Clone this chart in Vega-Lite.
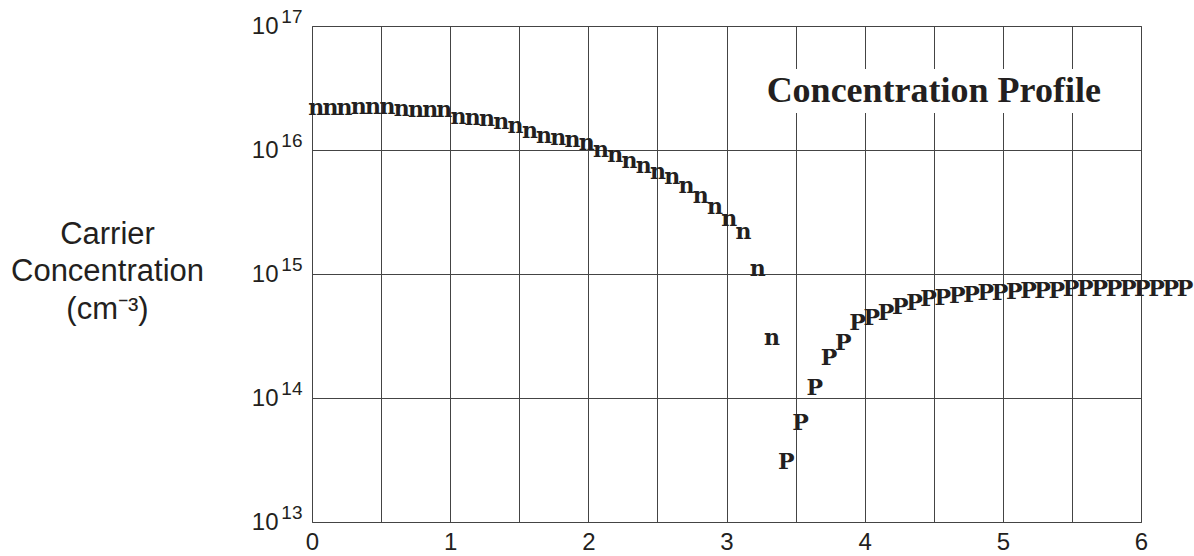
{
  "$schema": "https://vega.github.io/schema/vega-lite/v6.json",
  "width": 829,
  "height": 496,
  "autosize": {"type": "none"},
  "padding": {"left": 312, "top": 26, "right": 53, "bottom": 34},
  "background": "white",
  "config": {"view": {"stroke": "#555", "strokeWidth": 1}},
  "data": {
    "values": [
      {"depth": 0.030, "conc": 2.22e16, "carrier": "n"},
      {"depth": 0.133, "conc": 2.22e16, "carrier": "n"},
      {"depth": 0.236, "conc": 2.22e16, "carrier": "n"},
      {"depth": 0.339, "conc": 2.26e16, "carrier": "n"},
      {"depth": 0.442, "conc": 2.26e16, "carrier": "n"},
      {"depth": 0.546, "conc": 2.26e16, "carrier": "n"},
      {"depth": 0.649, "conc": 2.18e16, "carrier": "n"},
      {"depth": 0.752, "conc": 2.14e16, "carrier": "n"},
      {"depth": 0.855, "conc": 2.14e16, "carrier": "n"},
      {"depth": 0.958, "conc": 2.14e16, "carrier": "n"},
      {"depth": 1.061, "conc": 1.88e16, "carrier": "n"},
      {"depth": 1.164, "conc": 1.85e16, "carrier": "n"},
      {"depth": 1.267, "conc": 1.81e16, "carrier": "n"},
      {"depth": 1.370, "conc": 1.71e16, "carrier": "n"},
      {"depth": 1.473, "conc": 1.59e16, "carrier": "n"},
      {"depth": 1.577, "conc": 1.45e16, "carrier": "n"},
      {"depth": 1.680, "conc": 1.32e16, "carrier": "n"},
      {"depth": 1.783, "conc": 1.27e16, "carrier": "n"},
      {"depth": 1.886, "conc": 1.23e16, "carrier": "n"},
      {"depth": 1.989, "conc": 1.16e16, "carrier": "n"},
      {"depth": 2.092, "conc": 1.02e16, "carrier": "n"},
      {"depth": 2.195, "conc": 9.28e15, "carrier": "n"},
      {"depth": 2.298, "conc": 8.31e15, "carrier": "n"},
      {"depth": 2.401, "conc": 7.57e15, "carrier": "n"},
      {"depth": 2.504, "conc": 6.77e15, "carrier": "n"},
      {"depth": 2.608, "conc": 6.17e15, "carrier": "n"},
      {"depth": 2.711, "conc": 5.22e15, "carrier": "n"},
      {"depth": 2.814, "conc": 4.34e15, "carrier": "n"},
      {"depth": 2.917, "conc": 3.54e15, "carrier": "n"},
      {"depth": 3.020, "conc": 2.83e15, "carrier": "n"},
      {"depth": 3.123, "conc": 2.22e15, "carrier": "n"},
      {"depth": 3.226, "conc": 1.12e15, "carrier": "n"},
      {"depth": 3.329, "conc": 3.10e14, "carrier": "n"},
      {"depth": 3.432, "conc": 3.12e13, "carrier": "P"},
      {"depth": 3.535, "conc": 6.44e13, "carrier": "P"},
      {"depth": 3.639, "conc": 1.22e14, "carrier": "P"},
      {"depth": 3.742, "conc": 2.15e14, "carrier": "P"},
      {"depth": 3.845, "conc": 2.84e14, "carrier": "P"},
      {"depth": 3.948, "conc": 4.08e14, "carrier": "P"},
      {"depth": 4.051, "conc": 4.53e14, "carrier": "P"},
      {"depth": 4.154, "conc": 4.97e14, "carrier": "P"},
      {"depth": 4.257, "conc": 5.52e14, "carrier": "P"},
      {"depth": 4.360, "conc": 5.98e14, "carrier": "P"},
      {"depth": 4.463, "conc": 6.37e14, "carrier": "P"},
      {"depth": 4.566, "conc": 6.52e14, "carrier": "P"},
      {"depth": 4.670, "conc": 6.77e14, "carrier": "P"},
      {"depth": 4.773, "conc": 6.90e14, "carrier": "P"},
      {"depth": 4.876, "conc": 7.16e14, "carrier": "P"},
      {"depth": 4.979, "conc": 7.16e14, "carrier": "P"},
      {"depth": 5.082, "conc": 7.29e14, "carrier": "P"},
      {"depth": 5.185, "conc": 7.43e14, "carrier": "P"},
      {"depth": 5.288, "conc": 7.43e14, "carrier": "P"},
      {"depth": 5.391, "conc": 7.43e14, "carrier": "P"},
      {"depth": 5.494, "conc": 7.71e14, "carrier": "P"},
      {"depth": 5.597, "conc": 7.71e14, "carrier": "P"},
      {"depth": 5.701, "conc": 7.71e14, "carrier": "P"},
      {"depth": 5.804, "conc": 7.71e14, "carrier": "P"},
      {"depth": 5.907, "conc": 7.71e14, "carrier": "P"},
      {"depth": 6.010, "conc": 7.71e14, "carrier": "P"},
      {"depth": 6.113, "conc": 7.71e14, "carrier": "P"},
      {"depth": 6.216, "conc": 7.71e14, "carrier": "P"},
      {"depth": 6.319, "conc": 7.71e14, "carrier": "P"}
    ]
  },
  "layer": [
    {
      "mark": {"type": "text", "font": "DejaVu Serif", "fontWeight": "bold", "fontSize": 22, "baseline": "middle", "align": "center", "color": "#231f20", "clip": false, "dy": 1},
      "encoding": {
        "x": {
          "field": "depth", "type": "quantitative",
          "scale": {"domain": [0, 6], "nice": false, "zero": false},
          "axis": {
            "values": [0, 0.5, 1, 1.5, 2, 2.5, 3, 3.5, 4, 4.5, 5, 5.5, 6],
            "labelExpr": "datum.value % 1 == 0 ? format(datum.value, 'd') : ''",
            "title": null, "grid": true, "gridColor": "#444", "gridWidth": 1,
            "ticks": false, "domain": false,
            "labelFont": "Liberation Sans", "labelFontSize": 24, "labelColor": "#231f20",
            "labelPadding": 8, "labelFlush": false, "labelOverlap": false
          }
        },
        "y": {
          "field": "conc", "type": "quantitative",
          "scale": {"type": "log", "domain": [1e13, 1e17], "nice": false},
          "axis": {
            "orient": "left",
            "values": [1e13, 1e14, 1e15, 1e16, 1e17],
            "labelExpr": "'10'",
            "grid": true, "gridColor": "#444", "gridWidth": 1,
            "ticks": false, "domain": false,
            "labelFont": "Liberation Sans", "labelFontSize": 24, "labelColor": "#231f20",
            "labelPadding": 34, "labelAlign": "right", "labelBaseline": "middle",
            "labelFlush": false, "labelOverlap": false,
            "title": ["Carrier", "Concentration", "(cm⁻³)"],
            "titleFont": "Liberation Sans", "titleFontSize": 31, "titleFontWeight": "normal",
            "titleColor": "#231f20", "titleAngle": 0, "titleAlign": "center",
            "titleBaseline": "alphabetic", "titleLineHeight": 37.5,
            "titleX": -205, "titleY": 217
          }
        },
        "text": {"field": "carrier", "type": "nominal"}
      }
    },
    {
      "data": {"values": [{"label": "Concentration Profile"}]},
      "mark": {"type": "rect", "color": "white"},
      "encoding": {
        "x": {"datum": 3.1, "type": "quantitative", "scale": {"domain": [0, 6], "nice": false, "zero": false}, "axis": null},
        "x2": {"datum": 5.88},
        "y": {
          "datum": 4.5e16, "type": "quantitative",
          "scale": {"type": "log", "domain": [1e13, 1e17], "nice": false},
          "axis": {
            "orient": "left",
            "values": [1e13, 1e14, 1e15, 1e16, 1e17],
            "labelExpr": "format(log(datum.value) / LN10, '.0f')",
            "grid": false, "ticks": false, "domain": false, "title": null,
            "labelFont": "Liberation Sans", "labelFontSize": 19, "labelColor": "#231f20",
            "labelPadding": 10, "labelOffset": -10, "labelAlign": "right", "labelBaseline": "middle",
            "labelFlush": false, "labelOverlap": false
          }
        },
        "y2": {"datum": 1.99e16}
      }
    },
    {
      "data": {"values": [{"label": "Concentration Profile"}]},
      "mark": {"type": "text", "font": "Liberation Serif", "fontWeight": "bold", "fontSize": 36, "align": "center", "baseline": "alphabetic", "color": "#231f20"},
      "encoding": {
        "x": {"datum": 4.5, "type": "quantitative", "scale": {"domain": [0, 6], "nice": false, "zero": false}, "axis": null},
        "y": {"datum": 2.44e16, "type": "quantitative", "scale": {"type": "log", "domain": [1e13, 1e17], "nice": false}, "axis": null},
        "text": {"field": "label", "type": "nominal"}
      }
    }
  ],
  "resolve": {"axis": {"x": "independent", "y": "independent"}}
}
